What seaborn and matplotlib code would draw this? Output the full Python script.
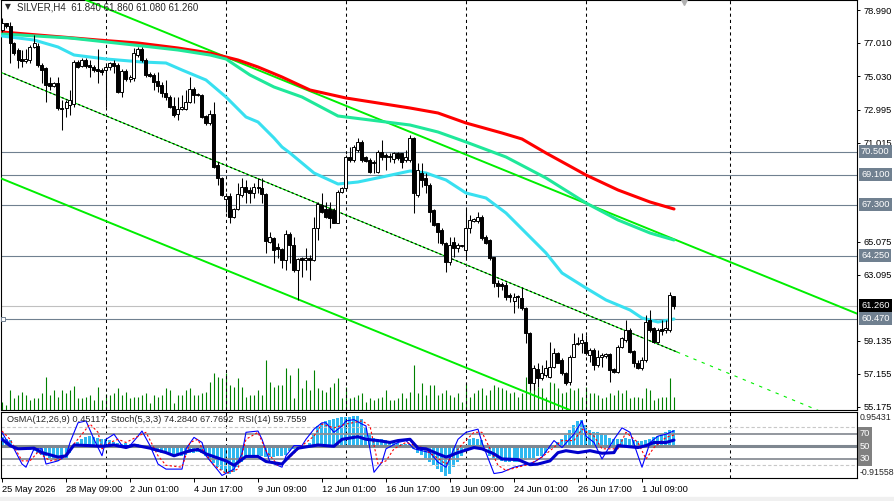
import matplotlib
matplotlib.use("Agg")
from matplotlib import pyplot as plt
import matplotlib.transforms as mtransforms
import numpy as np
import seaborn as sns

# --- candles (H4 bars, index 0 = 25 May 17:00) ---
opens = [77.79, 78.19, 78.03, 76.99, 76.59, 76.03, 75.95, 75.99, 76.79, 76.83,
         75.69, 75.49, 74.59, 74.43, 74.63, 73.13, 73.09, 73.29, 73.33, 75.89,
         75.63, 75.99, 75.69, 75.59, 75.43, 75.39, 75.39, 75.55, 75.79, 75.69,
         74.09, 75.35, 74.83, 74.89, 76.29, 76.63, 75.99, 75.13, 75.09, 74.75,
         74.49, 74.03, 73.79, 73.23, 72.73, 73.07, 73.03, 73.47, 74.27, 73.95,
         73.89, 72.63, 72.23, 72.75, 69.69, 68.89, 67.63, 67.83, 66.59, 67.03,
         67.89, 68.39, 68.19, 67.99, 68.39, 68.33, 67.95, 65.09, 65.31, 64.75,
         64.63, 63.99, 65.55, 64.89, 63.39, 64.09, 63.99, 64.11, 63.99, 65.89,
         67.29, 67.03, 67.03, 66.99, 66.23, 68.09, 68.29, 70.19, 69.99, 70.59,
         71.09, 70.15, 69.99, 69.83, 69.29, 70.49, 70.27, 70.23, 70.03, 70.43,
         70.39, 69.99, 69.99, 71.29, 67.89, 69.19, 68.89, 68.49, 66.99, 66.19,
         65.79, 64.99, 63.89, 65.09, 64.69, 64.83, 64.59, 65.89, 66.35, 66.35,
         66.59, 65.39, 65.19, 64.15, 62.59, 62.53, 62.49, 61.89, 61.55, 61.83,
         61.69, 61.09, 59.59, 56.59, 57.43, 56.89, 57.09, 56.99, 57.59, 58.39,
         57.99, 57.19, 56.69, 58.19, 58.93, 58.99, 59.09, 58.29, 58.59, 57.69,
         58.19, 58.23, 58.35, 57.43, 57.29, 58.79, 59.19, 59.79, 58.55, 57.79,
         57.49, 57.99, 60.39, 59.89, 59.09, 59.83, 59.79, 59.79, 61.84]
highs = [78.49, 78.23, 78.29, 77.09, 76.69, 76.59, 76.63, 76.89, 77.49, 76.99,
         75.79, 75.59, 74.99, 74.69, 74.99, 73.59, 73.59, 74.19, 75.99, 75.99,
         76.09, 76.09, 75.99, 75.69, 76.63, 75.49, 75.79, 75.89, 75.99, 75.79,
         75.43, 75.43, 75.09, 76.69, 76.79, 76.79, 76.09, 75.29, 75.19, 75.29,
         74.69, 74.79, 73.89, 73.79, 73.79, 73.89, 74.19, 74.99, 74.39, 74.03,
         73.95, 72.69, 72.99, 73.49, 69.89, 68.99, 68.03, 68.03, 67.09, 68.59,
         68.89, 68.79, 68.39, 68.59, 68.89, 68.89, 68.03, 65.69, 65.39, 64.99,
         64.69, 65.79, 65.69, 65.39, 64.09, 64.19, 64.69, 64.29, 66.59, 67.49,
         67.99, 67.49, 67.49, 67.09, 68.19, 68.39, 70.29, 70.79, 70.89, 71.29,
         71.19, 70.23, 70.09, 69.99, 70.59, 71.19, 70.39, 70.39, 70.49, 70.49,
         70.43, 70.59, 71.49, 71.39, 69.79, 69.79, 69.19, 68.59, 67.03, 66.23,
         65.89, 65.09, 65.39, 65.39, 64.99, 64.89, 67.09, 66.69, 66.49, 66.89,
         66.69, 65.49, 65.23, 64.19, 62.79, 62.69, 62.69, 61.99, 61.99, 61.89,
         62.39, 61.19, 59.69, 57.69, 57.79, 57.69, 57.99, 59.09, 58.69, 58.49,
         58.09, 57.29, 58.29, 59.59, 59.39, 59.59, 59.49, 58.69, 58.69, 58.59,
         58.39, 58.43, 58.43, 57.49, 58.89, 59.39, 60.39, 59.89, 58.59, 57.99,
         58.19, 60.69, 60.99, 59.99, 59.89, 60.39, 60.39, 62.09, 61.86]
lows = [77.69, 77.89, 75.79, 76.29, 75.49, 75.59, 75.79, 75.83, 76.69, 75.59,
        74.59, 73.49, 74.19, 74.39, 72.99, 71.79, 72.59, 72.69, 73.19, 75.49,
        75.59, 75.49, 74.99, 75.29, 74.59, 75.09, 73.19, 75.39, 75.19, 74.03,
        73.79, 74.75, 74.69, 74.75, 76.19, 75.89, 74.99, 74.99, 74.19, 74.09,
        73.79, 73.59, 73.09, 72.59, 72.39, 72.99, 72.99, 73.39, 73.39, 73.83,
        72.49, 72.09, 72.09, 69.49, 68.49, 67.83, 66.89, 66.19, 66.49, 66.99,
        67.79, 67.39, 67.43, 67.69, 68.03, 67.39, 64.39, 64.99, 63.79, 64.09,
        63.49, 63.39, 63.79, 63.29, 61.59, 62.99, 63.39, 62.79, 63.95, 65.19,
        66.79, 66.49, 65.89, 66.19, 66.19, 67.99, 68.19, 69.89, 69.89, 70.49,
        69.89, 69.89, 69.19, 69.19, 69.19, 69.99, 69.39, 69.89, 69.79, 69.99,
        69.49, 69.89, 69.89, 66.79, 67.79, 68.39, 67.99, 66.29, 66.03, 64.99,
        64.89, 63.29, 63.69, 64.19, 64.49, 64.75, 63.99, 65.59, 66.27, 66.19,
        65.19, 64.95, 63.99, 62.39, 61.79, 62.19, 61.59, 61.49, 60.79, 61.09,
        60.99, 58.99, 56.19, 56.19, 56.39, 56.79, 56.99, 56.89, 57.49, 57.79,
        57.09, 56.49, 56.49, 58.15, 58.89, 58.39, 58.29, 57.89, 57.39, 57.59,
        57.59, 58.09, 56.69, 57.23, 57.19, 58.69, 59.09, 58.39, 57.59, 57.43,
        57.39, 57.89, 59.69, 58.99, 58.99, 59.49, 59.59, 59.69, 61.08]
closes = [78.19, 78.03, 76.99, 76.39, 75.99, 75.95, 76.03, 76.79, 76.99, 75.69,
          75.39, 74.49, 74.43, 74.59, 73.09, 73.03, 73.49, 73.59, 75.89, 75.59,
          75.99, 75.63, 75.59, 75.39, 75.33, 75.27, 75.59, 75.79, 75.63, 74.09,
          75.35, 74.83, 74.99, 76.39, 76.63, 75.99, 75.09, 75.03, 74.69, 74.43,
          73.99, 73.75, 73.19, 72.69, 73.07, 73.19, 73.47, 74.27, 73.89, 73.87,
          72.59, 72.23, 72.75, 69.59, 68.89, 67.89, 67.83, 66.59, 67.03, 67.95,
          68.39, 68.09, 67.99, 68.35, 68.29, 67.95, 65.15, 65.35, 64.59, 64.63,
          63.99, 65.55, 64.89, 63.39, 64.03, 63.99, 64.09, 64.01, 65.89, 67.35,
          66.89, 66.59, 66.49, 66.23, 68.09, 68.29, 70.19, 69.99, 70.79, 71.09,
          69.99, 69.95, 69.29, 69.89, 70.49, 70.19, 70.19, 70.15, 70.43, 70.09,
          69.89, 70.19, 71.29, 67.99, 69.39, 68.79, 68.49, 66.89, 66.09, 65.69,
          64.99, 63.89, 64.89, 64.69, 64.89, 64.85, 65.89, 66.39, 66.43, 66.55,
          65.29, 64.99, 64.09, 62.59, 62.43, 62.43, 61.79, 61.79, 61.75, 61.75,
          61.09, 59.59, 56.59, 57.49, 56.89, 57.19, 57.49, 57.59, 58.39, 57.83,
          57.19, 56.59, 58.19, 58.93, 59.03, 59.19, 58.39, 58.59, 57.69, 58.19,
          58.29, 58.35, 57.39, 57.29, 58.79, 59.29, 59.79, 58.49, 57.79, 57.49,
          57.99, 60.29, 59.79, 59.09, 59.79, 59.75, 59.89, 61.89, 61.26]
volumes = [320, 200, 800, 480, 600, 720, 600, 400, 480, 480,
           680, 1320, 600, 800, 520, 800, 680, 800, 960, 480,
           480, 520, 600, 400, 920, 400, 640, 600, 680, 880,
           600, 720, 480, 520, 520, 600, 680, 280, 600, 520,
           600, 880, 800, 280, 600, 600, 800, 880, 600, 600,
           680, 720, 1120, 1480, 1320, 1280, 1480, 1000, 920, 1280,
           920, 520, 600, 600, 800, 600, 2000, 1120, 920, 1000,
           1000, 1680, 1400, 480, 1680, 880, 1200, 800, 1600, 880,
           800, 720, 920, 1080, 1280, 480, 920, 480, 520, 600,
           680, 320, 480, 400, 480, 520, 800, 400, 400, 480,
           680, 480, 720, 1800, 680, 1080, 600, 1000, 1000, 600,
           680, 800, 600, 520, 680, 320, 1080, 520, 680, 800,
           880, 600, 800, 1000, 920, 880, 800, 680, 720, 520,
           680, 1320, 1000, 1320, 920, 880, 520, 1120, 1080, 880,
           680, 720, 880, 800, 880, 520, 920, 680, 680, 600,
           480, 520, 680, 600, 800, 680, 800, 480, 520, 520,
           480, 880, 800, 400, 480, 520, 520, 1280, 520]

# --- moving averages (read at sample bars) ---
red_bars = [0, 12, 24, 34, 44, 52, 59, 64, 70, 77, 86, 94, 102, 109, 116, 125,
            130, 136, 146, 154, 162, 168]
red_vals = [77.67, 77.43, 77.19, 77.01, 76.71, 76.41, 75.99, 75.57, 74.97, 74.19,
            73.71, 73.41, 73.11, 72.81, 72.21, 71.61, 71.25, 70.41, 69.09, 68.19,
            67.47, 67.05]
green_bars = [0, 17, 33, 44, 52, 56, 62, 68, 75, 84, 92, 102, 109, 116, 126, 136,
              146, 154, 162, 168]
green_vals = [77.55, 77.31, 76.89, 76.59, 76.29, 76.05, 75.09, 74.37, 73.77, 72.63,
              72.39, 72.09, 71.67, 71.07, 70.17, 68.91, 67.41, 66.39, 65.61, 65.19]
cyan_bars = [0, 8, 14, 18, 26, 35, 41, 45, 51, 56, 61, 64, 68, 70, 72, 75, 78, 84,
             89, 95, 102, 106, 111, 116, 121, 126, 131, 136, 140, 146, 151, 157,
             160, 164, 168]
cyan_vals = [77.43, 77.19, 76.77, 76.29, 76.05, 75.87, 75.81, 75.39, 74.79, 73.77,
             72.57, 72.27, 71.31, 70.77, 70.41, 69.81, 69.21, 68.55, 68.67, 68.97,
             69.33, 69.21, 68.79, 68.01, 67.71, 66.81, 65.61, 64.41, 63.21, 62.31,
             61.59, 60.99, 60.51, 60.27, 60.45]

# --- chart objects ---
upper_line = [(33.25, 78.39), (212.75, 60.87)]
lower_line = [(-0.5, 68.91), (34.5, 65.49)]
middle_line = [(-0.5, 75.27), (168.75, 58.47)]
hlevels = [70.50, 69.10, 67.30, 64.25, 60.47]
bid = 61.26
separators = [26, 56, 86, 116, 146, 182]
price_ticks = [78.990, 77.010, 75.030, 72.995, 71.015, 65.075, 63.095, 59.135,
               57.155, 55.175]
time_bars = [0, 16, 32, 48, 64, 80, 96, 112, 128, 144, 160]
time_labels = ["25 May 2026", "28 May 09:00", "2 Jun 01:00", "4 Jun 17:00",
               "9 Jun 09:00", "12 Jun 01:00", "16 Jun 17:00", "19 Jun 09:00",
               "24 Jun 01:00", "26 Jun 17:00", "1 Jul 09:00"]

# --- indicators ---
osma = [0.25, 0.2, 0.15, -0.05, -0.08, -0.1, -0.12, -0.13, -0.15, -0.2,
        -0.25, -0.3, -0.35, -0.38, -0.42, -0.4, -0.35, -0.2, -0.05, 0.1,
        0.2, 0.25, 0.28, 0.26, 0.23, 0.2, 0.18, 0.15, 0.1, 0.08,
        0.06, 0.07, 0.06, 0.05, 0.05, 0.02, -0.05, -0.1, -0.15, -0.18,
        -0.2, -0.22, -0.25, -0.28, -0.3, -0.28, -0.25, -0.22, -0.2, -0.18,
        -0.2, -0.3, -0.4, -0.5, -0.6, -0.7, -0.78, -0.8, -0.75, -0.6,
        -0.45, -0.35, -0.3, -0.25, -0.25, -0.28, -0.32, -0.33, -0.32, -0.3,
        -0.28, -0.25, -0.15, -0.1, -0.05, -0.02, 0.02, 0.08, 0.3, 0.55,
        0.65, 0.7, 0.72, 0.75, 0.78, 0.8, 0.8, 0.82, 0.85, 0.83,
        0.75, 0.5, 0.3, 0.22, 0.2, 0.18, 0.15, 0.12, 0.1, 0.08,
        0.05, 0.04, 0.06, -0.1, -0.2, -0.25, -0.35, -0.45, -0.55, -0.65,
        -0.75, -0.85, -0.8, -0.6, -0.45, -0.3, -0.1, 0.18, 0.22, 0.2,
        0.15, -0.05, -0.3, -0.35, -0.38, -0.42, -0.45, -0.46, -0.47, -0.45,
        -0.42, -0.4, -0.38, -0.35, -0.3, -0.28, -0.2, -0.1, -0.05, 0.1,
        0.2, 0.3, 0.45, 0.6, 0.7, 0.72, 0.6, 0.45, 0.4, 0.38,
        0.35, 0.3, 0.22, 0.2, 0.18, 0.2, 0.22, 0.18, 0.15, 0.12,
        0.12, 0.15, 0.2, 0.25, 0.28, 0.32, 0.38, 0.45, 0.45117]
stoch_bars = [0, 1, 3, 5, 6, 8, 10, 11, 14, 16, 17, 19, 21, 23, 25, 26, 28, 30, 32,
              34, 35, 37, 39, 41, 45, 46, 48, 50, 51, 54, 55, 58, 60, 61, 64, 65,
              67, 70, 71, 73, 75, 76, 78, 80, 81, 83, 85, 86, 88, 90, 91, 93, 95,
              96, 99, 101, 103, 105, 107, 109, 111, 114, 116, 119, 120, 123, 125,
              128, 130, 133, 135, 138, 140, 143, 145, 146, 148, 150, 153, 155,
              157, 159, 160, 162, 164, 166, 168]
stoch_main = [72, 61, 46, 22, 17, 46, 46, 22, 27, 35, 56, 87, 90, 61, 35, 61, 69,
              51, 51, 66, 74, 51, 22, 14, 14, 46, 64, 56, 35, 12, 4, 14, 38, 72,
              74, 61, 25, 17, 35, 51, 51, 61, 77, 87, 87, 72, 82, 90, 92, 85, 82,
              9, 25, 46, 56, 59, 46, 43, 40, 25, 17, 61, 72, 77, 56, 7, 9, 17, 20,
              25, 33, 59, 48, 69, 90, 66, 56, 30, 61, 79, 72, 35, 17, 56, 66, 69,
              74.284]
sig_bars = [0, 2, 5, 7, 9, 12, 15, 17, 20, 22, 24, 25, 27, 29, 31, 35, 36, 39, 41,
            45, 47, 49, 50, 53, 56, 59, 61, 64, 66, 69, 71, 75, 78, 80, 83, 86,
            90, 92, 94, 96, 98, 101, 105, 108, 111, 112, 115, 118, 120, 122, 124,
            126, 129, 132, 135, 137, 140, 143, 145, 148, 150, 154, 156, 159, 161,
            163, 166, 168]
stoch_sig = [74, 61, 27, 27, 41, 27, 30, 46, 69, 85, 72, 46, 56, 61, 56, 69, 72,
             35, 20, 17, 56, 61, 46, 20, 7, 14, 61, 72, 43, 20, 27, 51, 66, 85,
             79, 85, 90, 82, 22, 27, 46, 56, 48, 35, 22, 30, 53, 72, 72, 46, 20,
             12, 17, 22, 33, 43, 59, 59, 77, 66, 46, 46, 72, 56, 30, 48, 64,
             67.769]
rsi_bars = [0, 2, 4, 8, 10, 14, 16, 18, 22, 25, 28, 31, 33, 37, 41, 43, 47, 49,
            51, 56, 58, 61, 64, 66, 70, 72, 74, 79, 83, 85, 89, 91, 94, 97, 99,
            102, 104, 106, 109, 111, 112, 114, 118, 120, 123, 125, 129, 132, 134,
            137, 139, 141, 144, 147, 150, 153, 154, 159, 161, 163, 166, 168]
rsi_vals = [61, 51, 46, 47, 40, 33, 35, 52, 51, 50, 52, 48, 52, 47, 40, 35, 43,
            45, 38, 27, 20, 34, 34, 26, 22, 35, 47, 52, 50, 61, 65, 61, 59, 56,
            59, 61, 47, 46, 38, 33, 35, 40, 48, 46, 38, 30, 29, 21, 22, 27, 40,
            43, 40, 43, 39, 40, 51, 48, 51, 56, 56, 59.756]

LIME = "#00EE00"
SLATE = "#708090"
FS = 6.7

sns.set_style("white")
plt.rcParams["font.family"] = ["Liberation Sans", "DejaVu Sans"]

W, H = 894, 501
fig = plt.figure(figsize=(W / 100, H / 100), dpi=100)
ax = fig.add_axes([1 / W, 91 / H, 856 / W, 410 / H])
axs = fig.add_axes([1 / W, 23 / H, 856 / W, 66 / H])
xlim = (-0.25, 213.75)

x = np.arange(len(opens))
o, hi, lo, c = (np.array(v) for v in (opens, highs, lows, closes))

# volumes behind everything
axv = ax.twinx()
axv.vlines(x, 0, volumes, color="#008000", lw=0.8)
axv.set_ylim(0, 410 * 40)
axv.set_yticks([])
axv.set_zorder(ax.get_zorder() - 1)
ax.patch.set_visible(False)
for s in axv.spines.values():
    s.set_visible(False)

# horizontal levels
for p in hlevels:
    ax.axhline(p, color=SLATE, lw=0.8, zorder=1)
ax.axhline(bid, color="#C0C0C0", lw=0.8, zorder=1)
ax.plot(0.3, hlevels[-1], marker="s", ms=3, mfc="white", mec=SLATE, mew=0.7,
        zorder=6, clip_on=False)

# separators
for b in separators:
    ax.axvline(b, color="black", lw=0.75, ls=(0, (3, 3)), zorder=1)
    axs.axvline(b, color="black", lw=0.75, ls=(0, (3, 3)), zorder=1)

# channel
ax.axline(*upper_line, color=LIME, lw=1.4, zorder=3)
ax.axline(*lower_line, color=LIME, lw=1.4, zorder=3)
(mx0, my0), (mx1, my1) = middle_line
ax.plot([mx0, mx1], [my0, my1], color=LIME, lw=0.8, zorder=3)
ax.plot([mx0, mx1], [my0, my1], color="black", lw=0.8, ls=(0, (2, 2)), zorder=3)
slope = (my1 - my0) / (mx1 - mx0)
ax.plot([mx1, xlim[1]], [my1, my1 + slope * (xlim[1] - mx1)], color=LIME, lw=0.8,
        ls=(0, (3, 5)), zorder=3)

# moving averages
sns.lineplot(x=red_bars, y=red_vals, ax=ax, color="#FF0000", lw=2.2, zorder=4)
sns.lineplot(x=green_bars, y=green_vals, ax=ax, color="#1FE89A", lw=2.2, zorder=4)
sns.lineplot(x=cyan_bars, y=cyan_vals, ax=ax, color="#38E0F0", lw=2.2, zorder=4)

# candles
up = c >= o
ax.vlines(x, lo, hi, color="black", lw=0.75, zorder=5)
ax.bar(x, np.maximum(np.abs(c - o), 0.03), bottom=np.minimum(o, c), width=0.75,
       color=np.where(up, "white", "black"), edgecolor="black", linewidth=0.7,
       zorder=6)

ax.set_xlim(*xlim)
ax.set_ylim(54.99, 79.59)
ax.set_xlabel("")
ax.set_ylabel("")
ax.set_xticks([])
ax.yaxis.tick_right()
ax.set_yticks(price_ticks)
ax.set_yticklabels([f"{t:.3f}" for t in price_ticks])
ax.tick_params(axis="y", right=True, left=False, length=2.5, width=0.7, pad=2,
               labelsize=FS, colors="black")
for s in ax.spines.values():
    s.set_color("black")
    s.set_linewidth(0.8)

tr = mtransforms.offset_copy(ax.get_yaxis_transform(), fig=fig, x=4, y=0,
                             units="dots")
for p in hlevels:
    ax.text(1, p, f"{p:.3f}", transform=tr, ha="left", va="center", fontsize=FS,
            color="white", zorder=10, clip_on=False,
            bbox=dict(boxstyle="square,pad=0.22", fc=SLATE, ec="none"))
ax.text(1, bid, f"{bid:.3f}", transform=tr, ha="left", va="center", fontsize=FS,
        color="white", zorder=10, clip_on=False,
        bbox=dict(boxstyle="square,pad=0.22", fc="black", ec="none"))

# shift marker at top
ax.plot(170.5, 79.59, marker="v", ms=7, color="#B0B0B0", zorder=7, clip_on=False)

# header
fig.text(5 / W, 1 - 7 / H, "\u25bc", fontsize=5.5, va="center", ha="left",
         family=["DejaVu Sans"])
fig.text(17 / W, 1 - 7 / H, "SILVER,H4  61.840 61.860 61.080 61.260",
         fontsize=FS + 0.3, va="center", ha="left")

# --- sub window ---
axo = axs.twinx()
axo.bar(x, osma, width=0.75, color="#2EB8F0", linewidth=0)
axo.set_ylim(-0.91558, 0.95431)
axo.set_yticks([])
axo.set_zorder(axs.get_zorder() - 1)
axs.patch.set_visible(False)
for s in axo.spines.values():
    s.set_visible(False)

axs.axhline(80, color="#C8C8C8", lw=0.8, ls=(0, (3, 2)), zorder=1)
axs.axhline(20, color="#C8C8C8", lw=0.8, ls=(0, (3, 2)), zorder=1)
axs.axhline(70, color="#8A8F96", lw=1.3, zorder=1)
axs.axhline(30, color="#8A8F96", lw=1.3, zorder=1)
axs.axhline(50, color="#7F8790", lw=2.2, zorder=1)

sns.lineplot(x=stoch_bars, y=stoch_main, ax=axs, color="#0000FF", lw=0.8, zorder=3)
sns.lineplot(x=sig_bars, y=stoch_sig, ax=axs, color="#FF0000", lw=0.8,
             linestyle=(0, (2, 2)), zorder=3)
sns.lineplot(x=rsi_bars, y=rsi_vals, ax=axs, color="#0000CD", lw=2.2, zorder=4)

axs.set_xlim(*xlim)
axs.set_ylim(0, 104)
axs.set_xlabel("")
axs.set_ylabel("")
axs.set_yticks([])
axs.set_xticks(time_bars)
axs.set_xticklabels(time_labels, ha="left")
axs.tick_params(axis="x", bottom=True, length=3, width=0.7, pad=2, labelsize=FS,
                colors="black")
for s in axs.spines.values():
    s.set_color("black")
    s.set_linewidth(0.8)

trs = mtransforms.offset_copy(axs.get_yaxis_transform(), fig=fig, x=3, y=0,
                              units="dots")
axs.text(1, 95, "0.95431", transform=trs, ha="left", va="center",
         fontsize=FS - 0.4, clip_on=False)
axs.text(1, 8, "-0.91558", transform=trs, ha="left", va="center",
         fontsize=FS - 0.4, clip_on=False)
for lv in (70, 50, 30):
    axs.text(1, lv, str(lv), transform=trs, ha="left", va="center", fontsize=FS,
             color="white", zorder=10, clip_on=False,
             bbox=dict(boxstyle="square,pad=0.22", fc="#808080", ec="none"))

fig.text(7 / W, 1 - 420 / H,
         "OsMA(12,26,9) 0.45117  Stoch(5,3,3) 74.2840 67.7692  RSI(14) 59.7559",
         fontsize=FS, va="center", ha="left")

fig.add_artist(plt.Rectangle((0, 0), 1, 4 / H, transform=fig.transFigure,
                             color="#F0F0F0", zorder=0))

fig.savefig("out.png", dpi=100)
